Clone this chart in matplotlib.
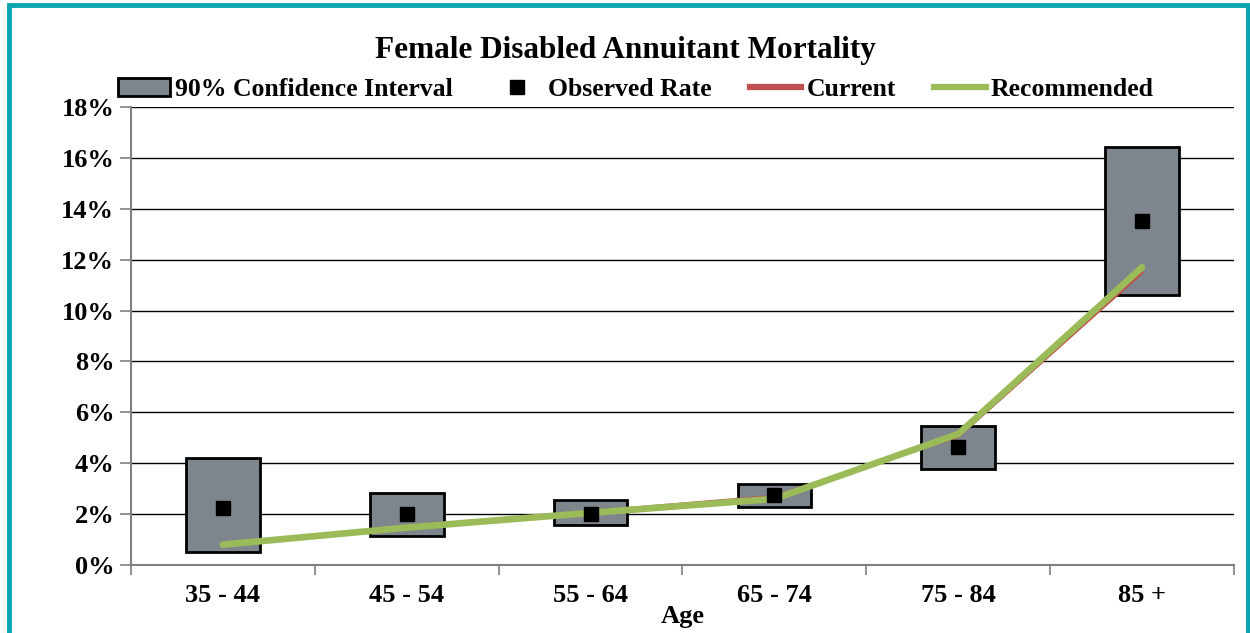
import numpy as np
import matplotlib.pyplot as plt
from matplotlib.patches import Rectangle
from matplotlib.lines import Line2D
from matplotlib.ticker import FuncFormatter

# data (percent)
ages = ['35 - 44', '45 - 54', '55 - 64', '65 - 74', '75 - 84', '85 +']
ci_low = [0.51, 1.14, 1.57, 2.28, 3.77, 10.61]
ci_high = [4.20, 2.83, 2.55, 3.18, 5.46, 16.43]
observed = [2.24, 2.00, 2.00, 2.75, 4.64, 13.52]
current = [0.80, 1.52, 2.10, 2.70, 5.05, 11.50]
recommended = [0.80, 1.47, 2.05, 2.60, 5.15, 11.70]

plt.rcParams['font.family'] = ['Liberation Serif', 'DejaVu Serif']
plt.rcParams['font.weight'] = 'bold'

fig = plt.figure(figsize=(12.5, 6.33), dpi=100)
ax = fig.add_axes([0.1048, 0.1074, 0.8824, 0.7236])

x = np.arange(len(ages))
box_col = '#7f858d'
ax.bar(x, np.array(ci_high) - np.array(ci_low), bottom=ci_low, width=0.4,
       color=box_col, edgecolor='black', linewidth=2, zorder=3)
ax.plot(x, current, color='#c0504d', lw=2.2, zorder=4, solid_capstyle='round')
ax.plot(x, recommended, color='#9bbb59', lw=4.8, zorder=5, solid_capstyle='round')
ax.plot(x, observed, 's', color='black', ms=10, zorder=6)

ax.set_xlim(-0.5, 5.5)
ax.set_ylim(0, 18)
ax.set_yticks(np.arange(0, 19, 2))
ax.yaxis.set_major_formatter(FuncFormatter(lambda v, p: f'{v:.0f}%'))
ax.yaxis.grid(True, color='black', lw=1)
ax.set_axisbelow(True)

ax.set_xticks(np.arange(-0.5, 6, 1))
ax.set_xticklabels([])
ax.set_xticks(x, minor=True)
ax.set_xticklabels(ages, minor=True)
ax.tick_params(axis='x', which='minor', length=0, pad=14, labelsize=19)
ax.tick_params(axis='x', which='major', length=7, color='#808080', width=1.2)
ax.tick_params(axis='y', length=8, color='#808080', width=1.2, labelsize=19, pad=4)

for s in ['top', 'right']:
    ax.spines[s].set_visible(False)
for s in ['left', 'bottom']:
    ax.spines[s].set_color('#808080')
    ax.spines[s].set_linewidth(1.5)

ax.set_xlabel('Age', fontsize=19, fontweight='bold', labelpad=-1.5)
fig.text(0.5, 0.921, 'Female Disabled Annuitant Mortality', ha='center', va='center',
         fontsize=22.5, fontweight='bold')

handles = [Rectangle((0, 0), 1, 1, facecolor=box_col, edgecolor='black', lw=2),
           Line2D([], [], ls='none', marker='s', color='black', ms=10),
           Line2D([], [], color='#c0504d', lw=4.5),
           Line2D([], [], color='#9bbb59', lw=4.5)]
labels = ['90% Confidence Interval', 'Observed Rate', 'Current', 'Recommended']
fig.legend(handles, labels, loc='center left', bbox_to_anchor=(0.0864, 0.858), ncol=4,
           frameon=False, fontsize=18.5, handlelength=2.0, handletextpad=0.2,
           columnspacing=1.5, borderaxespad=0)

# teal frame
fig.patches.append(Rectangle((0.0075, -0.05), 0.9905, 1.042, transform=fig.transFigure,
                             fill=False, edgecolor='#0aa5b0', lw=3.5))

fig.savefig('out.png', dpi=100)
